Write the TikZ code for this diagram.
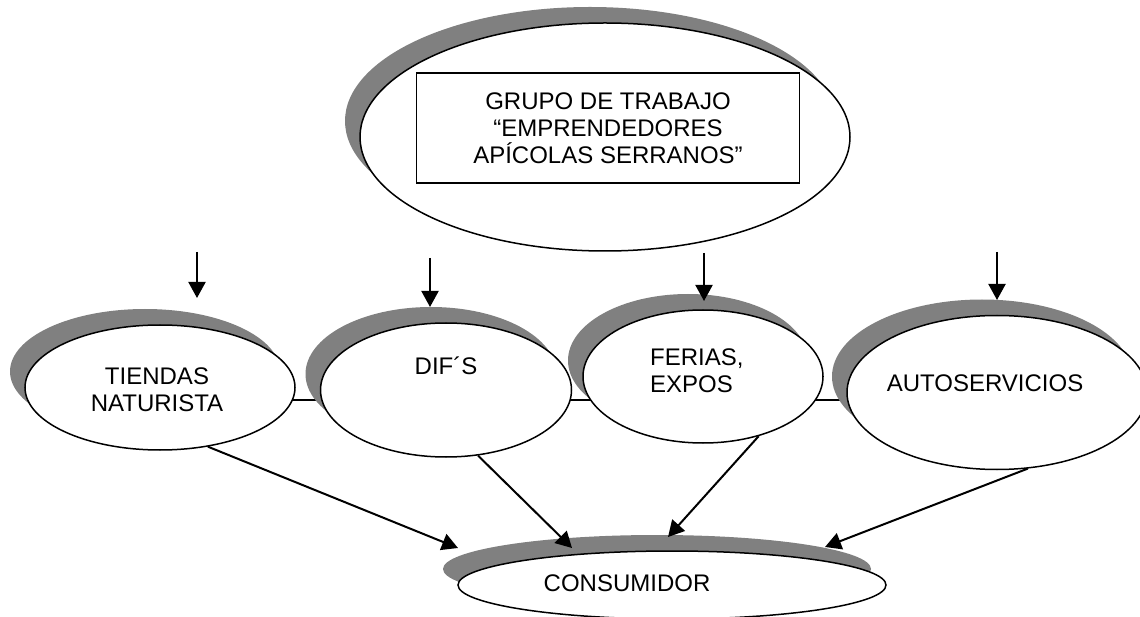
\documentclass[tikz,border=0pt]{standalone}
\usepackage{fontspec}
\setmainfont{Liberation Sans}
\usetikzlibrary{shapes, arrows.meta, positioning, shadows}
\pgfdeclarelayer{background}
\pgfsetlayers{background,main}

\begin{document}
\begin{tikzpicture}[x=1pt, y=-1pt,
		oval/.style={ellipse, draw, fill=white, line width=1.5pt, inner sep=0pt,
			drop shadow={shadow xshift=-15pt, shadow yshift=16pt, opacity=1, fill=black!50}},
		txt/.style={font=\fontsize{24}{27}\selectfont, align=center, inner sep=0pt},
		arr/.style={-{Triangle[length=16pt, width=17pt]}, line width=2pt}]
	\useasboundingbox (0,0) rectangle (1140,617);
	\node[oval, minimum width=490pt, minimum height=228pt] (grupoOval) at (605,137) {};
	\node[txt, draw, fill=white, line width=1.5pt, minimum width=383pt, minimum height=110pt] (grupo) at (608,128)
		{GRUPO DE TRABAJO\\“EMPRENDEDORES\\APÍCOLAS SERRANOS”};
	\node[oval, minimum width=270pt, minimum height=125pt] (tiendas) at (160,387.5) {};
	\node[txt] (tiendasTxt) at (157,390) {TIENDAS\\NATURISTA};
	\node[oval, minimum width=251pt, minimum height=134pt] (dif) at (446,390) {};
	\node[txt] (difTxt) at (446,366) {DIF´S};
	\node[oval, minimum width=240pt, minimum height=133pt] (ferias) at (703,376.5) {};
	\node[txt, anchor=west, align=left] (feriasTxt) at (650,371) {FERIAS,\\EXPOS};
	\node[oval, minimum width=300pt, minimum height=154pt] (auto) at (997,392.5) {};
	\node[txt] (autoTxt) at (985,383) {AUTOSERVICIOS};
	\node[oval, minimum width=428pt, minimum height=68pt] (consumidor) at (672,585) {};
	\node[txt] (consumidorTxt) at (627,583) {CONSUMIDOR};

	\coordinate (linkY) at (0,400);
	\begin{pgfonlayer}{background}
		\draw[line width=1.5pt] (tiendas.center |- linkY) -- (dif.center |- linkY);
		\draw[line width=1.5pt] (dif.center |- linkY) -- (ferias.center |- linkY);
		\draw[line width=1.5pt] (ferias.center |- linkY) -- (auto.center |- linkY);
	\end{pgfonlayer}

	\coordinate (dropA) at (197,252); \coordinate (hitA) at (197,298);
	\coordinate (dropB) at (430,258); \coordinate (hitB) at (430,307);
	\coordinate (dropC) at (704,253); \coordinate (hitC) at (704,301);
	\coordinate (dropD) at (997,252); \coordinate (hitD) at (997,300);
	\draw[arr] (dropA) -- (hitA);
	\draw[arr] (dropB) -- (hitB);
	\draw[arr] (dropC) -- (hitC);
	\draw[arr] (dropD) -- (hitD);

	\coordinate (hitE) at (458,548);
	\coordinate (hitF) at (572,548);
	\coordinate (hitG) at (668,537);
	\coordinate (hitH) at (825,547);
	\draw[arr] (tiendas.-51) -- (hitE);
	\draw[arr] (dif.-64) -- (hitF);
	\draw[arr] (ferias.-47) -- (hitG);
	\draw[arr] (auto.-68) -- (hitH);
\end{tikzpicture}
\end{document}
